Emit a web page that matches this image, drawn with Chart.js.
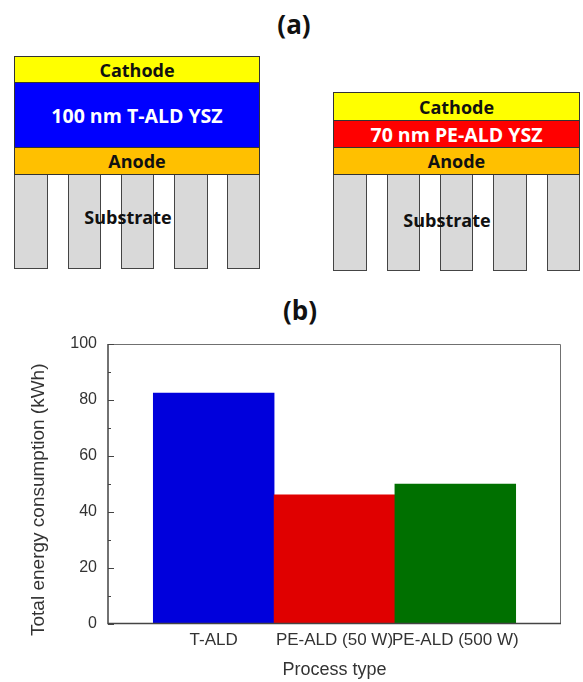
<!DOCTYPE html>
<html>
<head>
<meta charset="utf-8">
<script src="https://cdn.jsdelivr.net/npm/chart.js@4/dist/chart.umd.min.js"></script>
<style>
  body { margin: 0; background: #fff; }
  #wrap { position: relative; width: 583px; height: 682px; overflow: hidden; font-family: "Open Sans", "Noto Sans", sans-serif; }
  .panel { position: absolute; font-weight: 700; font-size: 26px; color: #111; transform: translate(-50%, -50%); white-space: nowrap; }
  .layer { position: absolute; box-sizing: border-box; border: 1px solid #333; display: flex; align-items: center; justify-content: center; font-weight: 700; font-size: 18px; color: #111; white-space: nowrap; }
  .layer.big { font-size: 19.5px; color: #fff; }
  .col { position: absolute; box-sizing: border-box; background: #d9d9d9; border: 1px solid #444; border-top: none; }
  .sub { position: absolute; font-weight: 700; font-size: 18px; color: #111; transform: translate(-50%, -50%); white-space: nowrap; }
  #chartBox { position: absolute; left: 0; top: 320px; width: 583px; height: 362px; }
</style>
</head>
<body>
<div id="wrap">
  <div class="panel" style="left:294px;top:24px">(a)</div>

  <!-- left stack: thermal ALD -->
  <div class="col" style="left:14px;top:173px;width:34px;height:96px"></div>
  <div class="col" style="left:68px;top:173px;width:33px;height:96px"></div>
  <div class="col" style="left:121px;top:173px;width:33px;height:96px"></div>
  <div class="col" style="left:174px;top:173px;width:34px;height:96px"></div>
  <div class="col" style="left:227px;top:173px;width:33px;height:96px"></div>
  <div class="layer" style="left:14px;top:56px;width:246px;height:27px;background:#ffff00">Cathode</div>
  <div class="layer big" style="left:14px;top:82px;width:246px;height:66px;background:#0000ff">100 nm T-ALD YSZ</div>
  <div class="layer" style="left:14px;top:147px;width:246px;height:28px;background:#ffc000">Anode</div>
  <div class="sub" style="left:128px;top:217px">Substrate</div>

  <!-- right stack: plasma enhanced ALD -->
  <div class="col" style="left:333px;top:173px;width:34px;height:98px"></div>
  <div class="col" style="left:387px;top:173px;width:33px;height:98px"></div>
  <div class="col" style="left:440px;top:173px;width:33px;height:98px"></div>
  <div class="col" style="left:493px;top:173px;width:34px;height:98px"></div>
  <div class="col" style="left:547px;top:173px;width:33px;height:98px"></div>
  <div class="layer" style="left:333px;top:92px;width:247px;height:29px;background:#ffff00">Cathode</div>
  <div class="layer big" style="left:333px;top:120px;width:247px;height:28px;background:#ff0000">70 nm PE-ALD YSZ</div>
  <div class="layer" style="left:333px;top:147px;width:247px;height:28px;background:#ffc000">Anode</div>
  <div class="sub" style="left:447px;top:220px">Substrate</div>

  <div class="panel" style="left:300px;top:310px">(b)</div>
  <div id="chartBox"><canvas id="energyChart"></canvas></div>
</div>

<script>
const categories = ["T-ALD", "PE-ALD (50 W)", "PE-ALD (500 W)"];
const energyKWh = [82.4, 46.0, 49.9];
const barColors = ["#0000dc", "#e00000", "#007000"];
const yTickValues = [0, 20, 40, 60, 80, 100];
const yMinorValues = [10, 30, 50, 70, 90];
const yTitle = "Total energy consumption (kWh)";
const xTitle = "Process type";

const frameAndTicks = {
  id: "frameAndTicks",
  afterDatasetsDraw(chart) {
    const ctx = chart.ctx;
    const area = chart.chartArea;
    const y = chart.scales.y;
    ctx.save();
    // grey box round the plot
    ctx.strokeStyle = "#707070";
    ctx.lineWidth = 1;
    ctx.beginPath();
    ctx.moveTo(area.left, area.top + 0.5);
    ctx.lineTo(area.right - 0.5, area.top + 0.5);
    ctx.lineTo(area.right - 0.5, area.bottom);
    ctx.stroke();
    // darker left and bottom axes
    ctx.strokeStyle = "#444";
    ctx.lineWidth = 1.5;
    ctx.beginPath();
    ctx.moveTo(area.left, area.top);
    ctx.lineTo(area.left, area.bottom);
    ctx.lineTo(area.right, area.bottom);
    ctx.stroke();
    // inward tick marks
    ctx.lineWidth = 1;
    yTickValues.concat(yMinorValues).forEach((v) => {
      const py = Math.round(y.getPixelForValue(v)) + 0.5;
      const len = yMinorValues.includes(v) ? 3 : 6;
      ctx.beginPath();
      ctx.moveTo(area.left, py);
      ctx.lineTo(area.left + len, py);
      ctx.stroke();
    });
    ctx.restore();
  },
  afterDraw(chart) {
    const ctx = chart.ctx;
    const area = chart.chartArea;
    ctx.save();
    ctx.fillStyle = "#333";
    ctx.font = "19px 'Liberation Sans', Arial, sans-serif";
    ctx.textAlign = "center";
    ctx.textBaseline = "middle";
    ctx.translate(39, (area.top + area.bottom) / 2 + 16);
    ctx.rotate(-Math.PI / 2);
    ctx.fillText(yTitle, 0, 0);
    ctx.restore();
  }
};

new Chart(document.getElementById("energyChart"), {
  type: "bar",
  data: {
    datasets: [
      {
        data: energyKWh.map((v, i) => ({ x: i, y: v })),
        backgroundColor: barColors,
        borderWidth: 0,
        barPercentage: 1,
        categoryPercentage: 1
      }
    ]
  },
  options: {
    responsive: true,
    maintainAspectRatio: false,
    animation: false,
    layout: {
      padding: { left: 0, right: 22, top: 24, bottom: 0 }
    },
    scales: {
      x: {
        type: "linear",
        min: -0.875,
        max: 2.875,
        offset: false,
        afterBuildTicks: (scale) => {
          scale.ticks = categories.map((c, i) => ({ value: i }));
        },
        afterFit: (scale) => {
          scale.height = 58.5;
        },
        grid: { display: false, drawTicks: false },
        border: { display: false },
        ticks: {
          autoSkip: false,
          maxRotation: 0,
          padding: 7,
          color: "#333",
          font: { family: "'Liberation Sans', Arial, sans-serif", size: 17 },
          callback: (v) => categories[v]
        },
        title: {
          display: true,
          text: xTitle,
          color: "#333",
          font: { family: "'Liberation Sans', Arial, sans-serif", size: 18 },
          padding: { top: 0, bottom: 1 }
        }
      },
      y: {
        min: 0,
        max: 100,
        afterBuildTicks: (scale) => {
          scale.ticks = yTickValues.map((v) => ({ value: v }));
        },
        afterFit: (scale) => {
          scale.width = 108;
        },
        grid: { display: false, drawTicks: false },
        border: { display: false },
        ticks: {
          padding: 11,
          color: "#333",
          font: { family: "'Liberation Sans', Arial, sans-serif", size: 16 }
        }
      }
    },
    plugins: {
      legend: { display: false },
      tooltip: { enabled: false }
    }
  },
  plugins: [frameAndTicks]
});
</script>
</body>
</html>
